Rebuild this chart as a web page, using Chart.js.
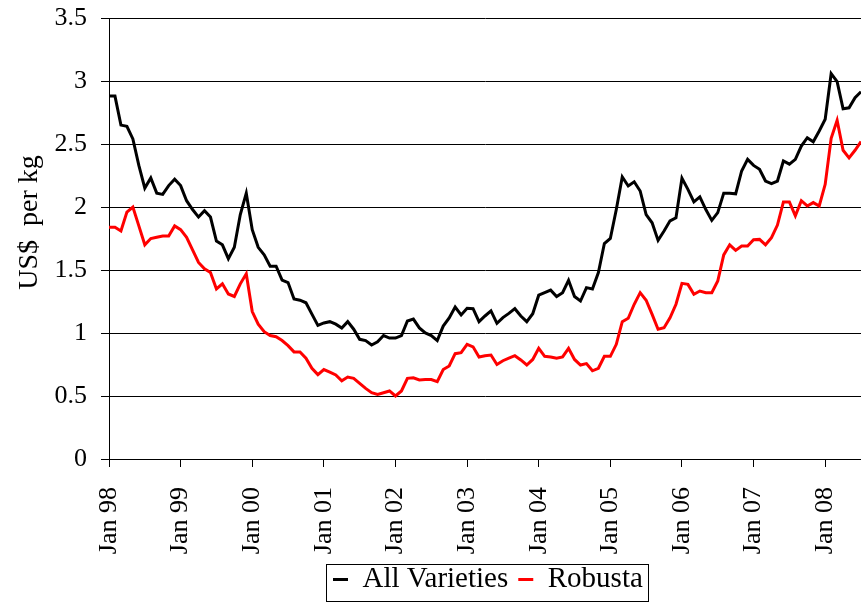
<!DOCTYPE html>
<html>
<head>
<meta charset="utf-8">
<script src="https://cdn.jsdelivr.net/npm/chart.js@4/dist/chart.umd.min.js"></script>
<style>
html,body{margin:0;padding:0;background:#fff;}
#wrap{width:861px;height:604px;position:relative;}
</style>
</head>
<body>
<div id="wrap"><canvas id="c" width="861" height="604"></canvas></div>
<script>
// Month names and years for the monthly categories (Jan 98 .. Jul 08)
const monthNames = ["Jan","Feb","Mar","Apr","May","Jun","Jul","Aug","Sep","Oct","Nov","Dec"];
const years = ["98","99","00","01","02","03","04","05","06","07","08"];
const tickLabels = ["Jan 98","Jan 99","Jan 00","Jan 01","Jan 02","Jan 03","Jan 04","Jan 05","Jan 06","Jan 07","Jan 08"];
const yTicks = ["0","0.5","1","1.5","2","2.5","3","3.5"];
const yTitle = "US$  per kg";

const allVarieties = [
 2.88,2.88,2.65,2.64,2.54,2.33,2.15,2.23,2.11,2.10,2.17,2.22,
 2.17,2.05,1.98,1.92,1.97,1.92,1.73,1.70,1.59,1.68,1.94,2.11,
 1.82,1.68,1.62,1.53,1.53,1.42,1.40,1.27,1.26,1.24,1.15,1.06,
 1.08,1.09,1.07,1.04,1.09,1.03,0.95,0.94,0.905,0.93,0.98,0.96,
 0.96,0.98,1.095,1.11,1.04,1.00,0.98,0.94,1.055,1.12,1.206,1.143,
 1.196,1.193,1.09,1.135,1.175,1.077,1.122,1.156,1.193,1.135,1.09,1.153,
 1.30,1.32,1.34,1.29,1.32,1.418,1.29,1.254,1.36,1.35,1.48,1.71,
 1.75,1.98,2.238,2.167,2.20,2.127,1.94,1.875,1.735,1.81,1.89,1.915,
 2.228,2.14,2.04,2.08,1.98,1.894,1.955,2.11,2.11,2.105,2.286,2.378,
 2.33,2.30,2.206,2.185,2.206,2.365,2.34,2.378,2.484,2.55,2.518,2.603,
 2.696,3.058,2.995,2.78,2.787,2.868,2.915
];
const robusta = [
 1.84,1.84,1.81,1.96,2.00,1.85,1.70,1.75,1.76,1.77,1.77,1.85,
 1.82,1.76,1.66,1.56,1.51,1.48,1.35,1.39,1.31,1.29,1.39,1.47,
 1.17,1.07,1.01,0.98,0.97,0.94,0.90,0.85,0.85,0.80,0.72,0.67,
 0.71,0.69,0.667,0.62,0.65,0.64,0.60,0.56,0.526,0.513,0.526,0.54,
 0.50,0.54,0.64,0.645,0.627,0.63,0.63,0.614,0.71,0.738,0.836,0.844,
 0.91,0.89,0.81,0.82,0.825,0.75,0.78,0.80,0.82,0.786,0.746,0.79,
 0.878,0.815,0.81,0.80,0.81,0.878,0.79,0.746,0.757,0.70,0.72,0.815,
 0.815,0.91,1.09,1.117,1.228,1.32,1.26,1.148,1.03,1.042,1.12,1.228,
 1.394,1.386,1.307,1.333,1.32,1.32,1.413,1.62,1.70,1.656,1.69,1.69,
 1.74,1.743,1.70,1.756,1.857,2.04,2.04,1.93,2.05,2.008,2.035,2.008,
 2.18,2.545,2.688,2.45,2.39,2.45,2.52
];

const categories = [];
for (const y of years) for (const m of monthNames) categories.push(m + " " + y);
categories.length = allVarieties.length;

const FONT = "'Liberation Serif', 'Times New Roman', serif";

const decor = {
  id: 'decor',
  afterUpdate(chart) {
    const lg = chart.legend;
    if (lg && lg.legendHitBoxes && lg.legendHitBoxes.length) {
      const shift = 333 - lg.legendHitBoxes[0].left;
      lg.left += shift;
      lg.right += shift;
      for (const hb of lg.legendHitBoxes) hb.left += shift;
    }
  },
  afterDraw(chart) {
    const ctx = chart.ctx;
    // legend border
    const lg = chart.legend;
    if (lg && lg.legendHitBoxes && lg.legendHitBoxes.length) {
      const hb = lg.legendHitBoxes;
      const l = hb[0].left - 7;
      const r = hb[hb.length - 1].left + hb[hb.length - 1].width + 5;
      const t = hb[0].top - 1;
      ctx.save();
      ctx.strokeStyle = '#000';
      ctx.lineWidth = 1;
      ctx.strokeRect(Math.round(l) + 0.5, Math.round(t) + 0.5, Math.round(r - l), 37);
      ctx.restore();
    }
    // y axis title
    const ca = chart.chartArea;
    ctx.save();
    ctx.fillStyle = '#000';
    ctx.font = "28px " + FONT;
    ctx.textAlign = 'center';
    ctx.textBaseline = 'middle';
    ctx.translate(30, (ca.top + ca.bottom) / 2 - 16);
    ctx.rotate(-Math.PI / 2);
    ctx.fillText(yTitle, 0, 0);
    ctx.restore();
  }
};

new Chart(document.getElementById('c'), {
  type: 'line',
  data: {
    labels: categories,
    datasets: [
      { label: 'All Varieties', data: allVarieties, borderColor: '#000000', backgroundColor: '#000000',
        borderWidth: 3, pointRadius: 0, tension: 0, fill: false },
      { label: 'Robusta', data: robusta, borderColor: '#ff0000', backgroundColor: '#ff0000',
        borderWidth: 3, pointRadius: 0, tension: 0, fill: false }
    ]
  },
  options: {
    responsive: false,
    animation: false,
    devicePixelRatio: 1,
    layout: { padding: { top: 18, right: 0, bottom: 0, left: 0 } },
    plugins: {
      tooltip: { enabled: false },
      legend: {
        position: 'bottom',
        fullSize: false,
        labels: {
          color: '#000',
          font: { family: FONT, size: 29 },
          usePointStyle: true,
          pointStyle: 'line',
          pointStyleWidth: 15,
          boxWidth: 15,
          padding: 10
        }
      }
    },
    scales: {
      x: {
        type: 'category',
        offset: false,
        afterFit(s) { s.height = 96; s.paddingLeft = 0; s.paddingRight = 0; },
        grid: { drawOnChartArea: false, drawTicks: true, tickLength: 8, color: '#000' },
        border: { color: '#000', width: 1 },
        ticks: {
          autoSkip: false,
          maxRotation: 90,
          minRotation: 90,
          padding: 20,
          color: '#000',
          font: { family: FONT, size: 26 },
          callback(v, i) { return (i % 12 === 0) ? tickLabels[i / 12] : null; }
        }
      },
      y: {
        min: 0,
        max: 3.5,
        afterFit(s) { s.width = 109; s.paddingTop = 0; s.paddingBottom = 0; },
        grid: { color: '#000', lineWidth: 1, drawTicks: true, tickLength: 8 },
        border: { color: '#000', width: 1 },
        ticks: {
          stepSize: 0.5,
          padding: 14,
          color: '#000',
          font: { family: FONT, size: 26 },
          callback(v) { return yTicks[Math.round(v * 2)]; }
        }
      }
    }
  },
  plugins: [decor]
});
</script>
</body>
</html>
